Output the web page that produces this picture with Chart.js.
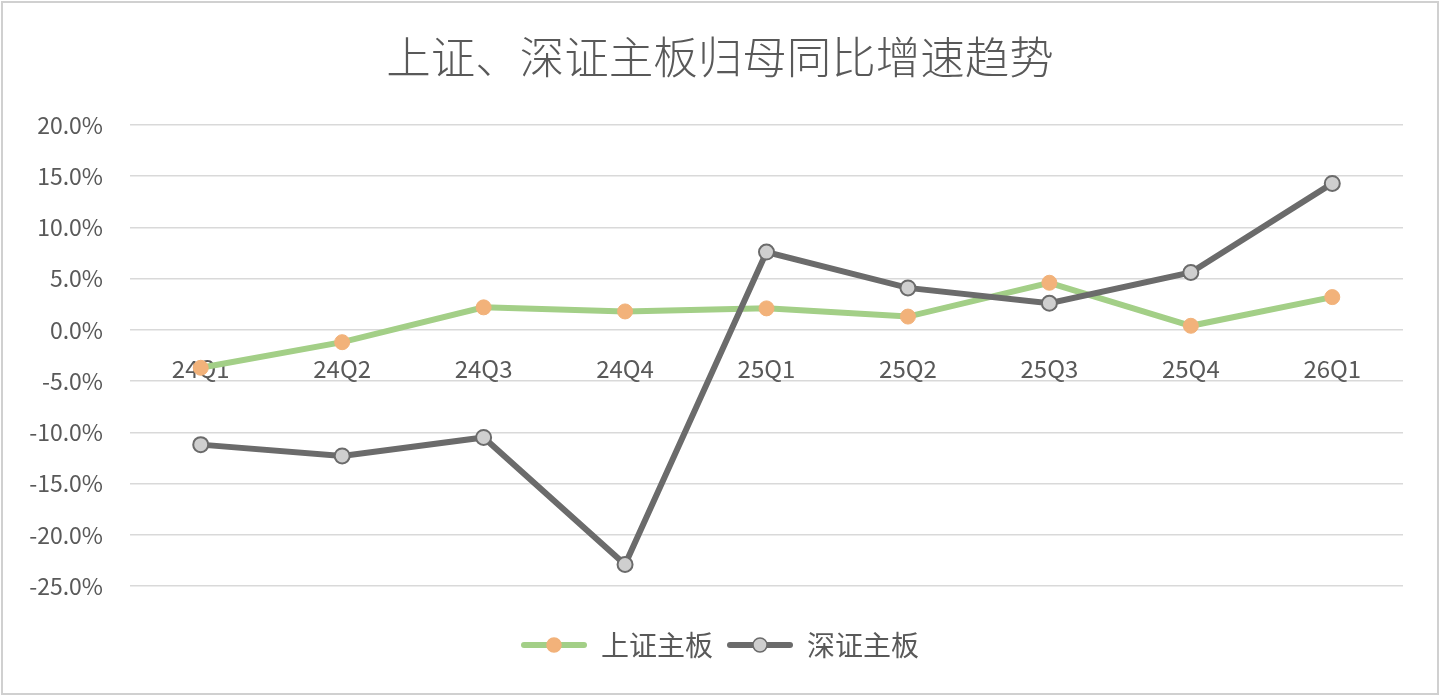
<!DOCTYPE html>
<html>
<head>
<meta charset="utf-8">
<script src="https://cdn.jsdelivr.net/npm/chart.js@4"></script>
<style>
html,body{margin:0;padding:0;background:#fff;overflow:hidden;}
#wrap{width:1440px;height:696px;position:relative;}
</style>
</head>
<body>
<div id="wrap"><canvas id="c" width="1440" height="696"></canvas></div>
<script>
const categories = ['24Q1','24Q2','24Q3','24Q4','25Q1','25Q2','25Q3','25Q4','26Q1'];
const shanghaiMain = [-3.7, -1.2, 2.2, 1.8, 2.1, 1.3, 4.6, 0.4, 3.2];
const shenzhenMain = [-11.2, -12.3, -10.5, -22.9, 7.6, 4.1, 2.6, 5.6, 14.3];
const seriesNames = ['上证主板', '深证主板'];
const titleText = '上证、深证主板归母同比增速趋势';

const FONT = '"Noto Sans CJK SC", "Noto Sans", sans-serif';
const TEXT = '#595959';
const GREEN = '#a3cf87';
const ORANGE = '#f2b27a';
const DARK = '#6b6b6b';
const LIGHTGRAY = '#cfcfcf';

function legendIcon(lineColor, fill, stroke) {
  const cv = document.createElement('canvas');
  cv.width = 66; cv.height = 20;
  const g = cv.getContext('2d');
  g.strokeStyle = lineColor; g.lineWidth = 6; g.lineCap = 'round';
  g.beginPath(); g.moveTo(3, 10); g.lineTo(63, 10); g.stroke();
  g.beginPath(); g.arc(33, 10, 7, 0, Math.PI * 2);
  g.fillStyle = fill; g.fill();
  g.lineWidth = 1.5; g.strokeStyle = stroke; g.stroke();
  return cv;
}
const icons = [legendIcon(GREEN, ORANGE, ORANGE), legendIcon(DARK, LIGHTGRAY, DARK)];

const borderPlugin = {
  id: 'border',
  beforeDraw(chart) {
    const ctx = chart.ctx;
    ctx.save();
    ctx.fillStyle = '#fff';
    ctx.fillRect(0, 0, chart.width, chart.height);
    ctx.restore();
  },
  afterDraw(chart) {
    const ctx = chart.ctx;
    ctx.save();
    ctx.strokeStyle = '#d0d0d0';
    ctx.lineWidth = 2;
    ctx.strokeRect(2, 2, chart.width - 4, chart.height - 4);
    ctx.restore();
  }
};

new Chart(document.getElementById('c'), {
  type: 'line',
  data: {
    labels: categories,
    datasets: [
      {
        label: seriesNames[0],
        data: shanghaiMain,
        borderColor: GREEN,
        borderWidth: 6,
        pointRadius: 7.5,
        pointBackgroundColor: ORANGE,
        pointBorderColor: ORANGE,
        pointBorderWidth: 1,
        tension: 0,
        order: 1
      },
      {
        label: seriesNames[1],
        data: shenzhenMain,
        borderColor: DARK,
        borderWidth: 6,
        pointRadius: 7.5,
        pointBackgroundColor: LIGHTGRAY,
        pointBorderColor: DARK,
        pointBorderWidth: 2,
        tension: 0,
        order: 0
      }
    ]
  },
  options: {
    responsive: false,
    animation: false,
    devicePixelRatio: 1,
    layout: { padding: { left: 0, right: 0, top: 0, bottom: 27 } },
    plugins: {
      title: {
        display: true,
        text: titleText,
        color: TEXT,
        font: { family: FONT, size: 44.5, weight: 300, lineHeight: 1.2 },
        padding: { top: 30, bottom: 41.6 }
      },
      legend: {
        display: true,
        position: 'bottom',
        labels: {
          usePointStyle: true,
          pointStyleWidth: 66,
          color: TEXT,
          font: { family: FONT, size: 28 },
          padding: 14,
          sort: (a, b) => a.datasetIndex - b.datasetIndex,
          generateLabels(chart) {
            const items = Chart.defaults.plugins.legend.labels.generateLabels(chart);
            items.forEach(it => { it.pointStyle = icons[it.datasetIndex]; });
            return items;
          }
        }
      },
      tooltip: { enabled: false }
    },
    scales: {
      x: {
        type: 'category',
        offset: true,
        position: { y: 0 },
        grid: { display: false, drawTicks: false },
        border: { display: false },
        ticks: {
          color: TEXT,
          font: { family: FONT, size: 24 },
          padding: 25,
          maxRotation: 0,
          autoSkip: false
        }
      },
      xSpacer: {
        type: 'category',
        position: 'bottom',
        offset: true,
        grid: { display: false, drawTicks: false },
        border: { display: false },
        ticks: { display: false },
        afterFit(s) { s.height = 31; }
      },
      y: {
        min: -25,
        max: 20,
        grid: { color: '#d9d9d9', lineWidth: 1.5, drawTicks: false },
        border: { display: false },
        ticks: {
          stepSize: 5,
          color: TEXT,
          font: { family: FONT, size: 23 },
          padding: 27,
          callback: v => v.toFixed(1) + '%'
        },
        afterFit(s) { s.width = 130; }
      },
      ySpacer: {
        type: 'linear',
        position: 'right',
        min: 0,
        max: 1,
        grid: { display: false, drawTicks: false },
        border: { display: false },
        ticks: { display: false },
        afterFit(s) { s.width = 37; }
      }
    }
  },
  plugins: [borderPlugin]
});
</script>
</body>
</html>
